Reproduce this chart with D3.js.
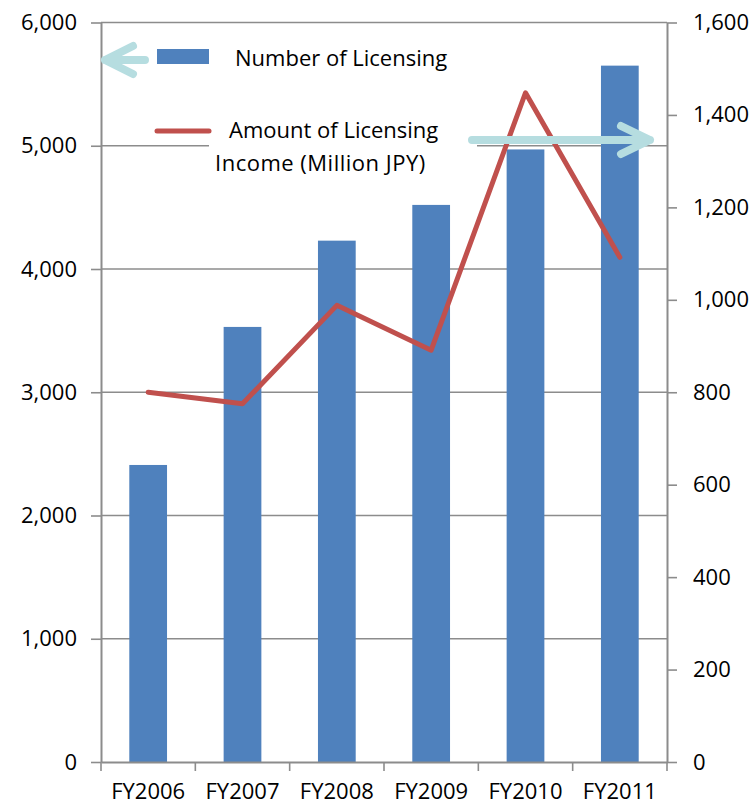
<!DOCTYPE html>
<html>
<head>
<meta charset="utf-8">
<script src="https://cdn.jsdelivr.net/npm/d3@7"></script>
<style>
  html, body { margin: 0; padding: 0; background: #fff; }
  svg { display: block; }
  text { font-family: "Open Sans", sans-serif; fill: #000; }
</style>
</head>
<body>
<svg id="chart" width="755" height="805"></svg>
<script>
// Licensing results by fiscal year
const years = ["FY2006", "FY2007", "FY2008", "FY2009", "FY2010", "FY2011"];
const licenseCount = [2410, 3530, 4230, 4520, 4970, 5650];
const licenseIncome = [800, 775, 988, 891, 1448, 1092];   // million JPY
const countTicks = [0, 1000, 2000, 3000, 4000, 5000, 6000];
const incomeTicks = [0, 200, 400, 600, 800, 1000, 1200, 1400, 1600];
const legendCountLabel = "Number of Licensing";
const legendIncomeLines = ["Amount of Licensing", "Income (Million JPY)"];

const svg = d3.select("#chart");
const plotLeft = 101, plotRight = 667, plotTop = 22.5, plotBottom = 762;
const axisColor = "#8c8c8c";
const barColor = "#4f81bd";
const lineColor = "#c0504d";
const arrowColor = "#b6dde0";
const fmt = d3.format(",");

const x = d3.scaleBand().domain(years).range([plotLeft, plotRight]).paddingInner(0.6).paddingOuter(0.3);
const yL = d3.scaleLinear().domain([0, 6000]).range([plotBottom, plotTop]);
const yR = d3.scaleLinear().domain([0, 1600]).range([plotBottom, plotTop]);

// horizontal gridlines
svg.append("g").selectAll("line").data(countTicks.slice(1)).join("line")
  .attr("x1", plotLeft).attr("x2", plotRight)
  .attr("y1", d => yL(d)).attr("y2", d => yL(d))
  .attr("stroke", axisColor).attr("stroke-width", 1.6);

// bars
svg.append("g").selectAll("rect").data(years).join("rect")
  .attr("x", d => x(d))
  .attr("width", x.bandwidth())
  .attr("y", (d, i) => yL(licenseCount[i]))
  .attr("height", (d, i) => plotBottom - yL(licenseCount[i]))
  .attr("fill", barColor);

// left axis
const gL = svg.append("g").attr("transform", `translate(${plotLeft},0)`)
  .call(d3.axisLeft(yL).tickValues(countTicks).tickFormat(fmt).tickSize(10).tickSizeOuter(0).tickPadding(14));
// right axis
const gR = svg.append("g").attr("transform", `translate(${plotRight},0)`)
  .call(d3.axisRight(yR).tickValues(incomeTicks).tickFormat(fmt).tickSize(10).tickSizeOuter(0).tickPadding(16));
// bottom axis
const gB = svg.append("g").attr("transform", `translate(0,${plotBottom})`)
  .call(d3.axisBottom(x).tickSize(0).tickPadding(35));

[gL, gR, gB].forEach(g => {
  g.select(".domain").attr("stroke", axisColor).attr("stroke-width", 2);
  g.selectAll(".tick line").attr("stroke", axisColor).attr("stroke-width", 1.6);
  g.selectAll("text").attr("font-family", "'Open Sans', sans-serif").attr("font-size", 22).attr("fill", "#000");
});
gR.selectAll(".tick text").attr("x", 26);
gB.selectAll(".tick text").attr("dy", "0.1em");

// category boundary ticks on the bottom axis
const step = x.step();
const bounds = d3.range(years.length + 1).map(i => plotLeft + i * step);
svg.append("g").selectAll("line").data(bounds).join("line")
  .attr("x1", d => d).attr("x2", d => d)
  .attr("y1", plotBottom).attr("y2", plotBottom + 9)
  .attr("stroke", axisColor).attr("stroke-width", 1.6);

// income line
const line = d3.line()
  .x((d, i) => x(years[i]) + x.bandwidth() / 2)
  .y(d => yR(d));
svg.append("path").datum(licenseIncome)
  .attr("d", line)
  .attr("fill", "none")
  .attr("stroke", lineColor)
  .attr("stroke-width", 5)
  .attr("stroke-linejoin", "round")
  .attr("stroke-linecap", "round");

// legend
const lg = svg.append("g");
lg.append("rect").attr("x", 209).attr("y", 36).attr("width", 268).attr("height", 148).attr("fill", "#fff");
lg.append("rect").attr("x", 157).attr("y", 49).attr("width", 52).attr("height", 15).attr("fill", barColor);
lg.append("text").attr("x", 235).attr("y", 66).attr("font-size", 22).text(legendCountLabel);
lg.append("line").attr("x1", 157).attr("x2", 209).attr("y1", 131).attr("y2", 131)
  .attr("stroke", lineColor).attr("stroke-width", 5).attr("stroke-linecap", "round");
lg.append("text").attr("x", 229).attr("y", 138).attr("font-size", 22).text(legendIncomeLines[0]);
lg.append("text").attr("x", 215).attr("y", 171).attr("font-size", 22).attr("letter-spacing", 0.5).text(legendIncomeLines[1]);

// axis pointer arrows
const arrows = svg.append("g")
  .attr("fill", "none").attr("stroke", arrowColor)
  .attr("stroke-width", 8).attr("stroke-linecap", "round").attr("stroke-linejoin", "round");
arrows.append("path").attr("d", "M145,60 L105,60 M133,46 L105,60 L133,74");
arrows.append("path").attr("d", "M472,140 L650,140 M621,126 L650,140 L621,154");
</script>
</body>
</html>
